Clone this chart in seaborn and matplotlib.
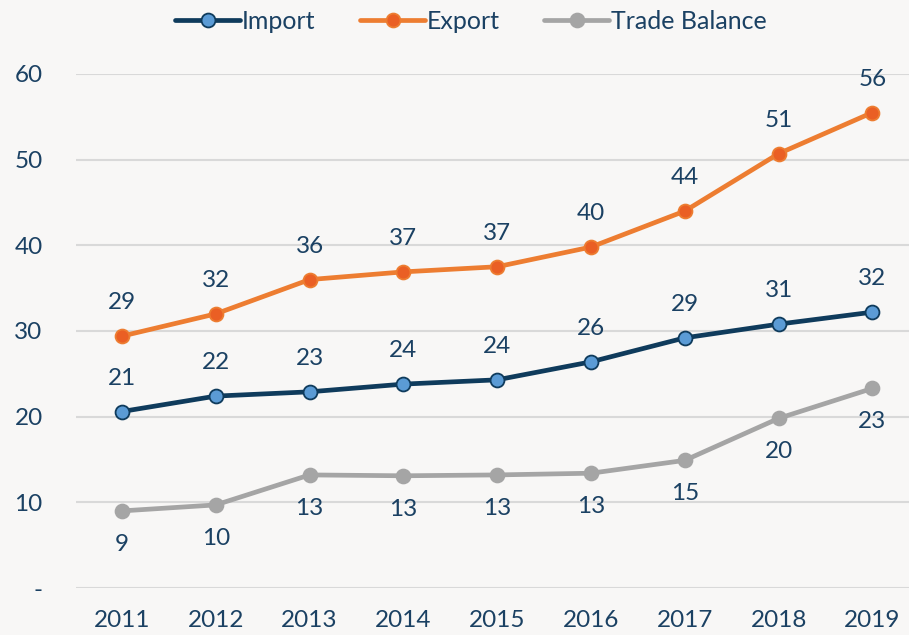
import pandas as pd
import matplotlib.pyplot as plt
import seaborn as sns

# données (milliards)
years = [2011, 2012, 2013, 2014, 2015, 2016, 2017, 2018, 2019]
imports = [20.6, 22.4, 22.9, 23.8, 24.3, 26.4, 29.2, 30.8, 32.2]
exports = [29.4, 32.0, 36.0, 36.9, 37.5, 39.8, 44.0, 50.7, 55.5]
balance = [9.0, 9.7, 13.2, 13.1, 13.2, 13.4, 14.9, 19.8, 23.3]
labels_import = [21, 22, 23, 24, 24, 26, 29, 31, 32]
labels_export = [29, 32, 36, 37, 37, 40, 44, 51, 56]
labels_balance = [9, 10, 13, 13, 13, 13, 15, 20, 23]

sns.set_theme(style='white')
plt.rcParams['font.family'] = ['Lato', 'DejaVu Sans']
txt = '#1b4163'
bg = '#f8f7f6'

fig = plt.figure(figsize=(9.09, 6.35), dpi=100, facecolor=bg)
ax = fig.add_axes([0.0836, 0.074, 0.9164, 0.8095])
ax.set_facecolor(bg)

series = [
    ('Import', imports, labels_import, '#0f3b5c', '#5b9bd5', '#0f3b5c', 'above'),
    ('Export', exports, labels_export, '#ed7d31', '#ea5f24', '#ed7d31', 'above'),
    ('Trade Balance', balance, labels_balance, '#a5a5a5', '#a5a5a5', '#a5a5a5', 'below'),
]

for name, vals, labs, col, mfc, mec, pos in series:
    sns.lineplot(x=years, y=vals, ax=ax, color=col, linewidth=3.4, marker='o',
                 markersize=10, markerfacecolor=mfc, markeredgecolor=mec,
                 markeredgewidth=1.3, label=name, zorder=3)
    for x, y, l in zip(years, vals, labs):
        dy = 24 if pos == 'above' else -24
        ax.annotate(f'{l}', (x, y), xytext=(0, dy), textcoords='offset points',
                    ha='center', va='center', fontsize=17.5, color=txt)

ax.set_ylim(0, 60)
ax.set_xlim(2010.51, 2019.39)
ax.set_yticks([0, 10, 20, 30, 40, 50, 60])
ax.set_yticklabels(['-', '10', '20', '30', '40', '50', '60'])
ax.set_xticks(years)
ax.set_xticklabels([str(y) for y in years])
ax.tick_params(axis='both', length=0, labelsize=17.5, colors=txt)
ax.tick_params(axis='y', pad=24)
ax.tick_params(axis='x', pad=16)
ax.grid(axis='y', color='#d9d9d9', linewidth=1.5)
ax.set_axisbelow(True)
for s in ax.spines.values():
    s.set_visible(False)
ax.set_xlabel('')
ax.set_ylabel('')

ax.legend_.remove()
h, l = ax.get_legend_handles_labels()
leg = fig.legend(h, l, loc='center', bbox_to_anchor=(0.518, 0.966), ncol=3,
                 frameon=False, fontsize=18, handlelength=2.6, handletextpad=0.05,
                 columnspacing=1.8)
for t in leg.get_texts():
    t.set_color(txt)

plt.savefig('out.png', dpi=100, facecolor=bg)
